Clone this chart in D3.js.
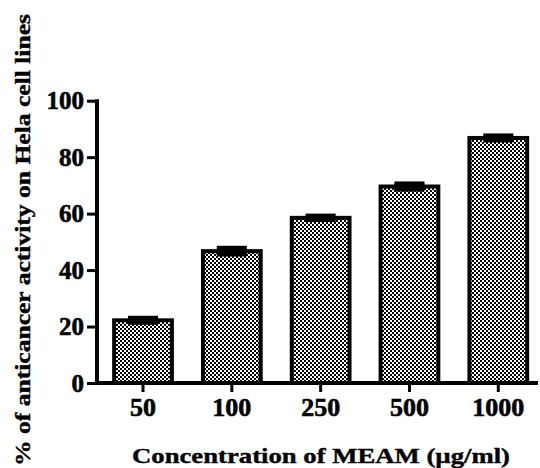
<!DOCTYPE html>
<html><head><meta charset="utf-8">
<script src="https://cdn.jsdelivr.net/npm/d3@7"></script>
<style>
html,body{margin:0;padding:0;background:#fff;}
svg{display:block;font-family:"Liberation Serif","Times New Roman",serif;font-weight:bold;}
</style></head>
<body>
<svg id="c" width="540" height="468"></svg>
<script>
const categories = ["50","100","250","500","1000"];
const values = [22.2, 46.7, 58.5, 69.6, 86.8];
const errors = [0.9, 1.2, 0.8, 1.1, 0.9];
const yTicks = [0, 20, 40, 60, 80, 100];
const xTitle = "Concentration of MEAM (µg/ml)";
const yTitle = "% of anticancer activity on Hela cell lines";

const svg = d3.select("#c");
const defs = svg.append("defs");
const pat = defs.append("pattern").attr("id","chk").attr("patternUnits","userSpaceOnUse")
  .attr("width",4).attr("height",4);
pat.append("rect").attr("width",4).attr("height",4).attr("fill","#fff");
pat.append("rect").attr("x",0).attr("y",0).attr("width",2).attr("height",2).attr("fill","#000");
pat.append("rect").attr("x",2).attr("y",2).attr("width",2).attr("height",2).attr("fill","#000");

const y = d3.scaleLinear().domain([0,100]).range([383,100.7]);
const x = d3.scaleBand().domain(categories).range([98.6,542.7]).paddingInner(0.35).paddingOuter(0.175);

// bars
svg.append("g").selectAll("rect").data(categories).join("rect")
  .attr("x", d => x(d))
  .attr("y", (d,i) => y(values[i]))
  .attr("width", x.bandwidth())
  .attr("height", (d,i) => y(0) - y(values[i]))
  .attr("fill","url(#chk)")
  .attr("stroke","#000").attr("stroke-width",4);

// error bars
const eb = svg.append("g").attr("stroke","#000").attr("stroke-width",4);
categories.forEach((c,i) => {
  const cx = x(c) + x.bandwidth()/2;
  const hw = 15;
  eb.append("line").attr("x1",cx).attr("x2",cx).attr("y1",y(values[i]+errors[i])).attr("y2",y(values[i]-errors[i]));
  eb.append("line").attr("x1",cx-hw).attr("x2",cx+hw).attr("y1",y(values[i]+errors[i])).attr("y2",y(values[i]+errors[i]));
  eb.append("line").attr("x1",cx-hw).attr("x2",cx+hw).attr("y1",y(values[i]-errors[i])).attr("y2",y(values[i]-errors[i]));
  eb.append("rect").attr("x",cx-hw).attr("width",hw*2).attr("y",y(values[i]+errors[i])).attr("height",y(values[i]-errors[i])-y(values[i]+errors[i])).attr("fill","#000").attr("stroke","none");
});

// y axis
const yAxis = d3.axisLeft(y).tickValues(yTicks).tickSize(10).tickSizeOuter(0).tickPadding(3);
const gy = svg.append("g").attr("transform","translate(97,0)").call(yAxis);
gy.select(".domain").remove();
gy.selectAll(".tick line").attr("stroke","#000").attr("stroke-width",3);
gy.selectAll(".tick text").attr("font-family","Liberation Serif").attr("font-weight","bold")
  .attr("font-size",25).attr("fill","#000").attr("stroke","#000").attr("stroke-width",0.6);
svg.append("line").attr("x1",97).attr("x2",97).attr("y1",y(100)-1.5).attr("y2",y(0)+2)
  .attr("stroke","#000").attr("stroke-width",4);

// x axis
const xAxis = d3.axisBottom(x).tickSize(9).tickSizeOuter(0).tickPadding(6);
const gx = svg.append("g").attr("transform",`translate(0,${y(0)})`).call(xAxis);
gx.select(".domain").remove();
gx.selectAll(".tick line").attr("stroke","#000").attr("stroke-width",3);
gx.selectAll(".tick text").attr("font-family","Liberation Serif").attr("font-weight","bold")
  .attr("font-size",26).attr("fill","#000").attr("stroke","#000").attr("stroke-width",0.6);
svg.append("line").attr("x1",95).attr("x2",538).attr("y1",y(0)).attr("y2",y(0))
  .attr("stroke","#000").attr("stroke-width",4);

// titles
svg.append("text").attr("x",321).attr("y",463).attr("text-anchor","middle")
  .attr("font-size",22).attr("fill","#000").attr("stroke","#000").attr("stroke-width",0.4)
  .attr("textLength",378).attr("lengthAdjust","spacingAndGlyphs").text(xTitle);
svg.append("text").attr("transform","translate(30,240) rotate(-90)").attr("text-anchor","middle")
  .attr("font-size",22).attr("fill","#000").attr("stroke","#000").attr("stroke-width",0.4)
  .attr("textLength",452).attr("lengthAdjust","spacingAndGlyphs").text(yTitle);
</script>
</body></html>
